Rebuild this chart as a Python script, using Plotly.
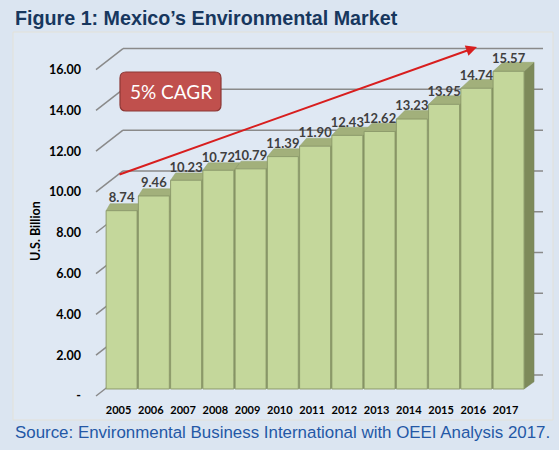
import plotly.graph_objects as go

# data
years = ['2005', '2006', '2007', '2008', '2009', '2010', '2011',
         '2012', '2013', '2014', '2015', '2016', '2017']
market = [8.74, 9.46, 10.23, 10.72, 10.79, 11.39, 11.90,
          12.43, 12.62, 13.23, 13.95, 14.74, 15.57]
y_ticks = [0, 2, 4, 6, 8, 10, 12, 14, 16]
y_ticktext = ['-'] + [f'{v:.2f}' for v in y_ticks[1:]]

title = 'Figure 1: Mexico\u2019s Environmental Market'
source = 'Source: Environmental Business International with OEEI Analysis 2017.'
y_title = 'U.S. Billion'
cagr = '5% CAGR'

# layout geometry (pixels)
W, H = 559, 450
ML, MR, MT, MB = 90, 14, 35, 50
XR = (-0.98, 13.13)
YR = (-0.54, 17.35)
PW, PH = W - ML - MR, H - MT - MB
SX = PW / (XR[1] - XR[0])
SY = PH / (YR[1] - YR[0])


def xd(px):
    return XR[0] + (px - ML) / SX


def yd(py):
    return YR[1] - (py - MT) / SY


def xp(px):
    return (px - ML) / PW


def yp(py):
    return 1 - (py - MT) / PH


font = 'Lato'
bar_w = 0.96
back_dy = 14 / SY          # back wall offset in value units
wall_left, wall_right, stub_front = xd(123), xd(543), xd(96)
label_dy = 7 / SY

shapes = [dict(type='rect', xref='paper', yref='paper',
               x0=xp(13), x1=xp(553), y0=yp(420), y1=yp(32),
               fillcolor='#dfe8f3', line=dict(color='#e3e1d8', width=1),
               layer='below')]

# back wall gridlines + left wall stubs
for v in y_ticks:
    yb = v + back_dy
    shapes.append(dict(type='line', x0=wall_left, x1=wall_right, y0=yb, y1=yb,
                       line=dict(color='#8a8a8a', width=1.5), layer='below'))
    shapes.append(dict(type='line', x0=stub_front, x1=wall_left,
                       y0=v - label_dy, y1=yb,
                       line=dict(color='#8a8a8a', width=1.5), layer='below'))

# 3d top and side faces of the bars
n = len(market)
for i, v in enumerate(market):
    ddx = (4 + 6 * i / (n - 1)) / SX
    ddy = (7 + 2 * i / (n - 1)) / SY
    xl, xr = i - bar_w / 2, i + bar_w / 2
    shapes.append(dict(
        type='path', layer='below',
        path=f'M {xr},0 L {xr + ddx},{ddy * 0.8} L {xr + ddx},{v + ddy} L {xr},{v} Z',
        fillcolor='#7d8a5a', line=dict(color='#75825a', width=0.5)))
    shapes.append(dict(
        type='path', layer='below',
        path=f'M {xl},{v} L {xr},{v} L {xr + ddx},{v + ddy} L {xl + ddx},{v + ddy} Z',
        fillcolor='#a2b07b', line=dict(color='#94a26e', width=0.5)))


# rounded CAGR box
def rounded(x0, y0, x1, y1, r):
    pts = [
        ('M', (x0 + r, y0)), ('L', (x1 - r, y0)), ('Q', (x1, y0), (x1, y0 + r)),
        ('L', (x1, y1 - r)), ('Q', (x1, y1), (x1 - r, y1)),
        ('L', (x0 + r, y1)), ('Q', (x0, y1), (x0, y1 - r)),
        ('L', (x0, y0 + r)), ('Q', (x0, y0), (x0 + r, y0)),
    ]
    out = []
    for p in pts:
        out.append(p[0] + ' ' + ' '.join(f'{xd(a)},{yd(b)}' for a, b in p[1:]))
    return ' '.join(out) + ' Z'


shapes.append(dict(type='path', path=rounded(120, 72, 221, 111, 6),
                   fillcolor='#c0504d', line=dict(color='#8c3836', width=1.2),
                   layer='above'))

fig = go.Figure()
fig.add_trace(go.Bar(
    x=list(range(n)), y=market, width=bar_w,
    marker=dict(color='#c4d79b', line=dict(color='#8e9c6c', width=1)),
    hoverinfo='skip'))
fig.add_trace(go.Scatter(
    x=list(range(n)), y=[v + 12 / SY for v in market],
    mode='text', text=[f'{v:.2f}' for v in market],
    textposition='middle center',
    textfont=dict(family=font, size=13, color='#3f3f3f', weight='bold'),
    hoverinfo='skip'))

annotations = [
    dict(x=xd(477), y=yd(47), ax=xd(118), ay=yd(175), axref='x', ayref='y',
         xref='x', yref='y', text='', showarrow=True, arrowhead=2,
         arrowsize=1.1, arrowwidth=2, arrowcolor='#d81e1e'),
    dict(x=xd(170.5), y=yd(91.5), xref='x', yref='y', text=cagr, showarrow=False,
         font=dict(family=font, size=19, color='white')),
    dict(x=xp(13), y=yp(18), xref='paper', yref='paper', xanchor='left',
         yanchor='middle', text='<b>' + title + '</b>', showarrow=False,
         font=dict(family='Liberation Sans', size=19.7, color='#17375e')),
    dict(x=xp(13), y=yp(432), xref='paper', yref='paper', xanchor='left',
         yanchor='middle', text=source, showarrow=False,
         font=dict(family='Liberation Sans', size=16.9, color='#2458a6')),
    dict(x=xp(35), y=yp(231), xref='paper', yref='paper', text=y_title,
         xanchor='center', yanchor='middle', textangle=-90, showarrow=False,
         font=dict(family=font, size=12.5, color='black', weight='bold')),
]

fig.update_layout(
    width=W, height=H,
    margin=dict(l=ML, r=MR, t=MT, b=MB),
    paper_bgcolor='#dbe5f1', plot_bgcolor='rgba(0,0,0,0)',
    showlegend=False, bargap=0.04,
    shapes=shapes, annotations=annotations,
    xaxis=dict(range=list(XR), tickvals=list(range(n)), ticktext=years,
               showgrid=False, zeroline=False, showline=False, ticks='',
               ticklabelshift=-3, ticklabelstandoff=2,
               tickfont=dict(family=font, size=11, color='black', weight='bold')),
    yaxis=dict(range=list(YR), tickvals=y_ticks, ticktext=y_ticktext,
               showgrid=False, zeroline=False, showline=False, ticks='',
               ticklabelstandoff=8, ticklabelshift=7,
               tickfont=dict(family=font, size=12.5, color='black', weight='bold')),
)

fig.write_html('out.html', config={'displayModeBar': False},
               post_script="document.body.style.margin='0';")
